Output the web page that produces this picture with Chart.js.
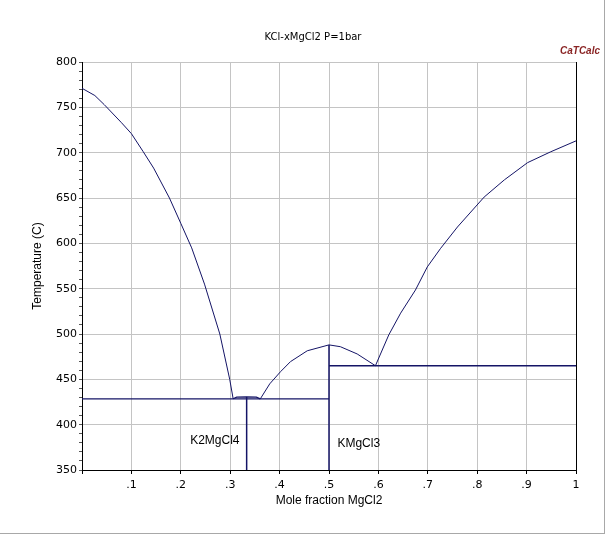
<!DOCTYPE html>
<html>
<head>
<meta charset="utf-8">
<script src="https://cdn.jsdelivr.net/npm/chart.js@4.4.1/dist/chart.umd.min.js"></script>
<style>
  body { margin: 0; background: #fff; }
  #wrap { width: 604px; height: 533px; border-right: 1px solid #a8a8a8; border-bottom: 1px solid #a8a8a8; }
</style>
</head>
<body>
<div id="wrap"><canvas id="myChart" width="604" height="533"></canvas></div>
<script>
// liquidus branches (x = mole fraction MgCl2, T in C)
const leftX = [0, 0.026, 0.045, 0.08, 0.10, 0.124, 0.145, 0.177, 0.20, 0.222, 0.248, 0.279, 0.299, 0.306];
const leftT = [771, 763, 753, 733, 721, 701, 683, 650, 622, 595, 555, 500, 450, 428.5];

const domeX = [0.306, 0.313, 0.333, 0.353, 0.361];
const domeT = [428.5, 430.3, 430.6, 430.3, 428.5];

const midX = [0.361, 0.38, 0.402, 0.422, 0.456, 0.5, 0.523, 0.557, 0.594];
const midT = [428.5, 445, 458.5, 469.5, 481.5, 488, 486, 478, 465];

const rightX = [0.594, 0.621, 0.645, 0.675, 0.699, 0.726, 0.760, 0.814, 0.855, 0.902, 0.949, 1.0];
const rightT = [465, 499, 523, 548.5, 574, 594.5, 618, 651, 670, 689, 701, 713];

// invariant lines and compounds
const eut1X = [0, 0.5];
const eut1T = [428.5, 428.5];
const eut2X = [0.5, 1];
const eut2T = [465, 465];
const k2X = [0.3333, 0.3333];
const k2T = [350, 430.6];
const kmX = [0.5, 0.5];
const kmT = [350, 488];

const xTickLabels = ['', '.1', '.2', '.3', '.4', '.5', '.6', '.7', '.8', '.9', '1'];
const yTickLabels = [350, 400, 450, 500, 550, 600, 650, 700, 750, 800];

const phaseLabels = [
    { text: 'K2MgCl4', x: 0.219, y: 382 },
    { text: 'KMgCl3', x: 0.517, y: 379 }
];

const lineColor = '#141466';
const pts = (xs, ys) => xs.map((x, i) => ({ x: x, y: ys[i] }));
const mk = (xs, ys, w) => ({
    data: pts(xs, ys),
    showLine: true,
    borderColor: lineColor,
    borderWidth: w,
    pointRadius: 0,
    fill: false,
    tension: 0
});

const textPlugin = {
    id: 'texts',
    afterDraw(chart) {
        const ctx = chart.ctx;
        const a = chart.chartArea;
        const sx = chart.scales.x, sy = chart.scales.y;
        ctx.save();
        ctx.fillStyle = '#000';
        ctx.textBaseline = 'middle';
        ctx.textAlign = 'center';
        ctx.font = '10px "DejaVu Sans"';
        ctx.fillText('KCl-xMgCl2 P=1bar', 313, 37);

        ctx.font = 'italic bold 10px "Liberation Sans"';
        ctx.fillStyle = '#8a2424';
        ctx.textAlign = 'right';
        ctx.fillText('CaTCalc', 600, 51);

        ctx.fillStyle = '#000';
        ctx.font = '12px "Liberation Sans"';
        ctx.textAlign = 'center';
        ctx.fillText('Mole fraction MgCl2', (a.left + a.right) / 2, a.bottom + 31);

        ctx.save();
        ctx.translate(a.left - 44, (a.top + a.bottom) / 2);
        ctx.rotate(-Math.PI / 2);
        ctx.fillText('Temperature (C)', 0, 0);
        ctx.restore();

        ctx.textAlign = 'left';
        phaseLabels.forEach(p => {
            ctx.fillText(p.text, sx.getPixelForValue(p.x), sy.getPixelForValue(p.y));
        });
        ctx.restore();
    }
};

const ctx = document.getElementById('myChart').getContext('2d');
new Chart(ctx, {
    type: 'scatter',
    data: {
        datasets: [
            mk(leftX, leftT, 1),
            mk(domeX, domeT, 1.2),
            mk(midX, midT, 1),
            mk(rightX, rightT, 1),
            mk(eut1X, eut1T, 1.3),
            mk(eut2X, eut2T, 1.3),
            mk(k2X, k2T, 1.5),
            mk(kmX, kmT, 1.5)
        ]
    },
    options: {
        responsive: false,
        animation: false,
        devicePixelRatio: 1,
        layout: { padding: { top: 62, right: 28, left: 0, bottom: 0 } },
        plugins: {
            legend: { display: false },
            tooltip: { enabled: false }
        },
        scales: {
            x: {
                type: 'linear',
                min: 0,
                max: 1,
                afterFit: s => { s.height = 63; },
                ticks: {
                    stepSize: 0.1,
                    autoSkip: false,
                    maxRotation: 0,
                    padding: 5,
                    color: '#000',
                    font: { family: 'DejaVu Sans', size: 11 },
                    callback: (v, i) => xTickLabels[i]
                },
                grid: {
                    color: c => (c.index === 10 ? '#000' : '#c4c4c4'),
                    tickColor: '#000',
                    tickLength: 4
                },
                border: { color: '#000', width: 1 }
            },
            y: {
                type: 'linear',
                min: 350,
                max: 800,
                afterFit: s => { s.width = 82; },
                ticks: {
                    stepSize: 10,
                    autoSkip: false,
                    padding: 2,
                    color: '#000',
                    font: { family: 'DejaVu Sans', size: 11 },
                    callback: v => (yTickLabels.includes(v) ? String(v) : '')
                },
                grid: {
                    color: c => (yTickLabels.includes(c.tick.value) ? '#c4c4c4' : 'rgba(0,0,0,0)'),
                    tickColor: '#555',
                    tickLength: 3
                },
                border: { color: '#000', width: 1 }
            }
        }
    },
    plugins: [textPlugin]
});
</script>
</body>
</html>
